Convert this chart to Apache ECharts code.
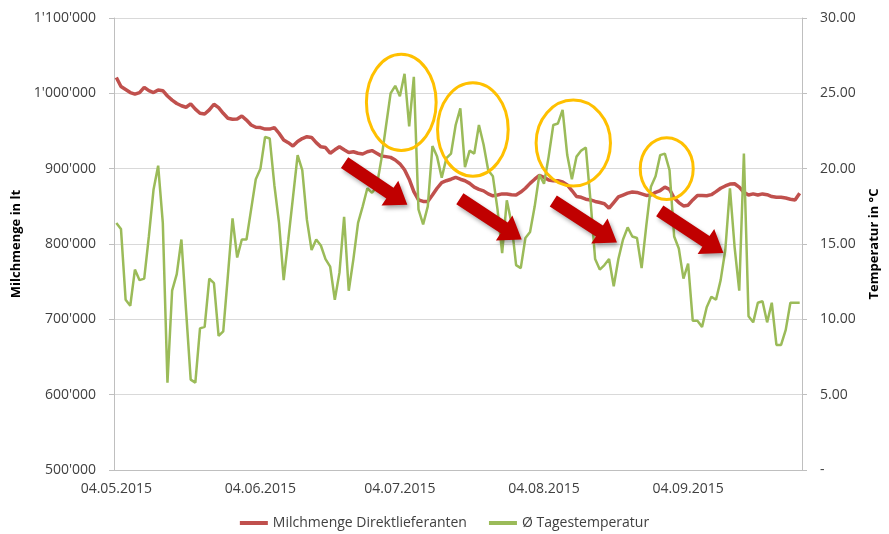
<!DOCTYPE html>
<html>
<head>
<meta charset="utf-8">
<script src="https://cdn.jsdelivr.net/npm/echarts@6/dist/echarts.min.js"></script>
<style>
  html, body { margin: 0; padding: 0; background: #fff; }
  #chart { width: 889px; height: 534px; }
</style>
</head>
<body>
<div id="chart"></div>
<script>
// Tagesreihe 04.05.2015 - 28.09.2015
const startDate = new Date(2015, 4, 4)
const dayCount = 148
const dates = []
for (let i = 0; i < dayCount; i++) {
    const d = new Date(startDate.getFullYear(), startDate.getMonth(), startDate.getDate() + i)
    const dd = String(d.getDate()).padStart(2, '0')
    const mm = String(d.getMonth() + 1).padStart(2, '0')
    dates.push(dd + '.' + mm + '.' + d.getFullYear())
}

const milkName = 'Milchmenge Direktlieferanten'
const tempName = 'Ø Tagestemperatur'

// Milchmenge in lt (linke Achse)
const milk = [
    1021000, 1009000, 1005000, 1001000, 999000, 1001000, 1008000, 1003500, 1001000, 1004500,
    1003500, 996500, 991000, 986500, 983500, 981500, 986000, 979000, 973500, 972500,
    978000, 985500, 981000, 973500, 967000, 965500, 966000, 970000, 964500, 958000,
    955000, 954500, 952500, 952500, 954500, 947000, 938000, 934500, 930000, 936000,
    940000, 942500, 941500, 934500, 929000, 928000, 920500, 925000, 929000, 925000,
    921500, 922500, 920500, 919500, 922500, 924000, 920500, 917000, 916000, 915000,
    911500, 906500, 898500, 886000, 869500, 858500, 856500, 856500, 865000, 874000,
    881500, 884000, 886000, 888500, 886000, 884000, 880500, 875500, 872500, 870500,
    866500, 864000, 865000, 866500, 866500, 865500, 865000, 869000, 874000, 880500,
    886000, 891000, 888500, 885000, 884000, 884000, 882500, 878500, 871000, 863000,
    862000, 859500, 858500, 856500, 855000, 853500, 847500, 855000, 862500, 865000,
    867500, 869000, 868500, 866500, 864500, 865000, 868500, 871000, 875500, 872500,
    861000, 855000, 850500, 851500, 858500, 864500, 864500, 864000, 865500, 869500,
    874000, 877000, 879500, 880000, 875500, 868500, 865000, 866500, 865000, 866500,
    865500, 863000, 862000, 862000, 861000, 859500, 858500, 867500
]

// Tagestemperatur in °C (rechte Achse)
const temp = [
    16.4, 16.0, 11.3, 10.9, 13.3, 12.6, 12.7, 15.5, 18.6, 20.2,
    16.4, 5.8, 11.9, 13.0, 15.3, 10.6, 6.0, 5.8, 9.4, 9.5,
    12.7, 12.4, 8.9, 9.2, 12.9, 16.7, 14.1, 15.3, 15.3, 17.3,
    19.3, 20.0, 22.1, 22.0, 18.9, 16.4, 12.6, 15.3, 18.1, 20.9,
    19.9, 16.6, 14.6, 15.3, 14.9, 14.0, 13.5, 11.3, 13.1, 16.8,
    11.9, 14.0, 16.4, 17.5, 18.7, 18.4, 18.8, 20.6, 22.8, 25.0,
    25.5, 24.8, 26.3, 22.8, 26.1, 17.3, 16.3, 17.5, 21.5, 20.8,
    19.4, 20.7, 21.0, 22.9, 24.0, 20.1, 21.2, 21.0, 22.9, 21.6,
    19.9, 19.5, 17.3, 14.4, 17.9, 16.4, 13.6, 13.4, 15.4, 15.8,
    17.5, 19.6, 19.0, 20.8, 22.9, 23.0, 23.9, 20.9, 19.3, 20.8,
    21.2, 21.4, 17.9, 14.0, 13.3, 13.6, 14.0, 12.2, 14.0, 15.3,
    16.1, 15.5, 15.4, 13.4, 16.2, 18.8, 19.5, 20.9, 21.0, 19.9,
    15.5, 14.7, 12.7, 13.7, 9.9, 9.9, 9.5, 10.8, 11.5, 11.3,
    12.6, 14.6, 18.7, 14.8, 11.9, 21.0, 10.2, 9.8, 11.1, 11.2,
    9.8, 11.1, 8.3, 8.3, 9.3, 11.1, 11.1, 11.1
]

// Markierungen (Tag-Index, °C)
const ringCenters = [[61.3, 24.4], [76.7, 22.6], [98.3, 21.7], [118.4, 20.0]]
const ringRadii = [[7.5, 3.2], [7.6, 3.1], [8.0, 2.85], [5.7, 2.05]]
const arrowTails = [[49.1, 20.4], [73.9, 18.0], [94.0, 17.85], [116.9, 17.2]]
const arrowTips = [[62.6, 17.6], [87.2, 15.3], [107.7, 15.1], [130.6, 14.4]]

const FONT = '"Open Sans", "Noto Sans", sans-serif'

const swiss = (v) => String(v).replace(/\B(?=(\d{3})+(?!\d))/g, "'")
const isMonthTick = (index, value) => value.startsWith('04.')

const chart = echarts.init(document.getElementById('chart'))
const option = {
    animation: false,
    backgroundColor: '#fff',
    textStyle: { fontFamily: FONT },
    grid: { left: 114, right: 83, top: 18, bottom: 64, containLabel: false },
    legend: {
        top: 511,
        left: 'center',
        itemGap: 22,
        itemWidth: 28,
        itemHeight: 4,
        icon: 'rect',
        textStyle: { color: '#404040', fontSize: 14, fontFamily: FONT },
        data: [milkName, tempName]
    },
    xAxis: {
        type: 'category',
        data: dates,
        boundaryGap: true,
        axisLine: { lineStyle: { color: '#BFBFBF' } },
        axisTick: { alignWithLabel: true, interval: isMonthTick, length: 5, lineStyle: { color: '#BFBFBF' } },
        axisLabel: { interval: isMonthTick, color: '#404040', fontSize: 14, margin: 12, fontFamily: FONT },
        splitLine: { show: false }
    },
    yAxis: [
        {
            type: 'value',
            min: 500000,
            max: 1100000,
            interval: 100000,
            name: 'Milchmenge in lt',
            nameLocation: 'middle',
            nameGap: 91,
            nameTextStyle: { color: '#000', fontWeight: 'bold', fontSize: 13, fontFamily: FONT },
            axisLine: { show: true, lineStyle: { color: '#BFBFBF' } },
            axisTick: { show: true, length: 5, lineStyle: { color: '#BFBFBF' } },
            axisLabel: { color: '#404040', fontSize: 14, margin: 18, fontFamily: FONT, formatter: (v) => swiss(v) },
            splitLine: { show: true, lineStyle: { color: '#D9D9D9' } }
        },
        {
            type: 'value',
            position: 'right',
            min: 0,
            max: 30,
            interval: 5,
            name: 'Temperatur in °C',
            nameLocation: 'middle',
            nameGap: 66,
            nameTextStyle: { color: '#000', fontWeight: 'bold', fontSize: 13, fontFamily: FONT },
            axisLine: { show: true, lineStyle: { color: '#BFBFBF' } },
            axisTick: { show: true, length: 5, lineStyle: { color: '#BFBFBF' } },
            axisLabel: { color: '#404040', fontSize: 14, margin: 18, fontFamily: FONT, formatter: (v) => v === 0 ? '-' : v.toFixed(2) },
            splitLine: { show: false }
        }
    ],
    series: [
        {
            name: milkName,
            type: 'line',
            yAxisIndex: 0,
            data: milk,
            symbol: 'none',
            itemStyle: { color: '#C0504D' },
            lineStyle: { color: '#C0504D', width: 3.5 },
            z: 2
        },
        {
            name: tempName,
            type: 'line',
            yAxisIndex: 1,
            data: temp,
            symbol: 'none',
            itemStyle: { color: '#9BBB59' },
            lineStyle: { color: '#9BBB59', width: 2.5 },
            z: 3
        }
    ]
}
chart.setOption(option)

// Pixel aus (Tag, °C), mit Interpolation zwischen Kategorien
const toPx = (d, t) => {
    const i = Math.floor(d)
    const f = d - i
    const a = chart.convertToPixel({ xAxisIndex: 0, yAxisIndex: 1 }, [i, t])
    const b = chart.convertToPixel({ xAxisIndex: 0, yAxisIndex: 1 }, [i + 1, t])
    return [a[0] + (b[0] - a[0]) * f, a[1]]
}

const graphics = []
ringCenters.forEach((c, k) => {
    const p = toPx(c[0], c[1])
    const px = toPx(c[0] + ringRadii[k][0], c[1] + ringRadii[k][1])
    graphics.push({
        type: 'ellipse',
        z: 100,
        shape: { cx: p[0], cy: p[1], rx: Math.abs(px[0] - p[0]), ry: Math.abs(p[1] - px[1]) },
        style: { fill: 'none', stroke: '#FFC000', lineWidth: 3 }
    })
})
arrowTails.forEach((t, k) => {
    const p0 = toPx(t[0], t[1])
    const p1 = toPx(arrowTips[k][0], arrowTips[k][1])
    const dx = p1[0] - p0[0], dy = p1[1] - p0[1]
    const len = Math.sqrt(dx * dx + dy * dy)
    const ux = dx / len, uy = dy / len
    const nx = -uy, ny = ux
    const w = 6.5, h = 15, L = 21
    const bx = p1[0] - ux * L, by = p1[1] - uy * L
    graphics.push({
        type: 'polygon',
        z: 101,
        shape: {
            points: [
                [p0[0] + nx * w, p0[1] + ny * w],
                [bx + nx * w, by + ny * w],
                [bx + nx * h, by + ny * h],
                [p1[0], p1[1]],
                [bx - nx * h, by - ny * h],
                [bx - nx * w, by - ny * w],
                [p0[0] - nx * w, p0[1] - ny * w]
            ]
        },
        style: {
            fill: '#C00000',
            shadowColor: 'rgba(0,0,0,0.35)',
            shadowBlur: 4,
            shadowOffsetX: 2,
            shadowOffsetY: 3
        }
    })
})
chart.setOption({ graphic: graphics })
</script>
</body>
</html>
